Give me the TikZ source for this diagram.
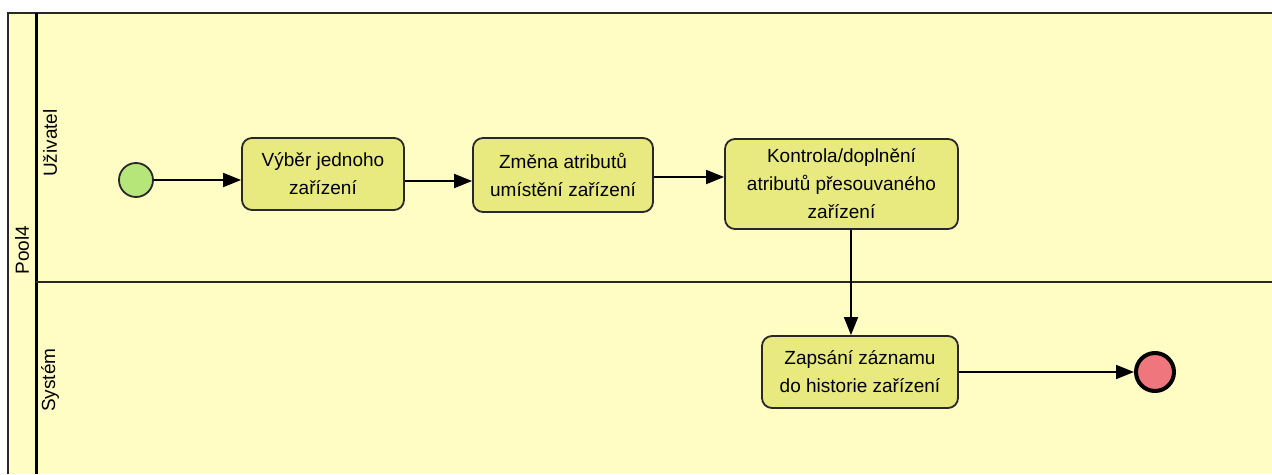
\documentclass[tikz,border=0pt]{standalone}
\usepackage{fontspec}
\setmainfont{Liberation Sans}
\usepackage{tikz}
\usetikzlibrary{arrows.meta}
\definecolor{poolbg}{RGB}{255,252,196}
\definecolor{taskfill}{RGB}{232,234,128}
\definecolor{startgreen}{RGB}{182,230,122}
\definecolor{endred}{RGB}{238,118,124}
\definecolor{edgegray}{RGB}{40,40,40}

\tikzset{
  task/.style={draw=edgegray,fill=taskfill,line width=1.8pt,rounded corners=10pt,
    align=center,font=\fontsize{19}{28}\selectfont,inner sep=4pt},
  flow/.style={line width=1.8pt,-{Triangle[length=18pt,width=14pt]}},
  lanelabel/.style={rotate=90,font=\fontsize{19}{22}\selectfont}
}

\begin{document}
\begin{tikzpicture}[x=1pt,y=-1pt]
    \useasboundingbox (0,0) rectangle (1272,474);
    \fill[white] (0,0) rectangle (1272,474);

    % Pool and lanes
    \fill[poolbg] (8,13) rectangle (1272,474);
    \draw[line width=2pt,edgegray] (8,474) -- (8,13) -- (1272,13);
    \draw[line width=3pt] (36,13) -- (36,474);
    \draw[line width=1.8pt,edgegray] (36,282) -- (1272,282);
    \node[lanelabel] (pool) at (22,250) {Pool4};
    \node[lanelabel] (laneuser) at (50,143) {Uživatel};
    \node[lanelabel] (lanesys) at (50,380) {Systém};

    % Events
    \node[circle,draw=edgegray,fill=startgreen,line width=1.8pt,minimum size=34pt,inner sep=0pt] (start) at (136,180) {};
    \node[circle,draw=black,fill=endred,line width=4pt,minimum size=38pt,inner sep=0pt] (finish) at (1155,372) {};

    % Tasks
    \node[task,minimum width=162pt,minimum height=72pt] (select) at (323,174) {Výběr jednoho\\zařízení};
    \node[task,minimum width=180pt,minimum height=74pt] (change) at (563,175) {Změna atributů\\umístění zařízení};
    \node[task,minimum width=233pt,minimum height=90pt] (check) at (841.5,184) {Kontrola/doplnění\\atributů přesouvaného\\zařízení};
    \node[task,minimum width=196pt,minimum height=72pt] (record) at (860,372) {Zapsání záznamu\\do historie zařízení};
    \coordinate (drop) at (851,0);

    % Sequence flows
    \draw[flow] (start) -- (select.west |- start);
    \draw[flow] (select.east |- 0,181) -- (change.west |- 0,181);
    \draw[flow] (change.east |- 0,177) -- (check.west |- 0,177);
    \draw[flow] (check.south -| drop) -- (record.north -| drop);
    \draw[flow] (record) -- (finish);
\end{tikzpicture}
\end{document}
